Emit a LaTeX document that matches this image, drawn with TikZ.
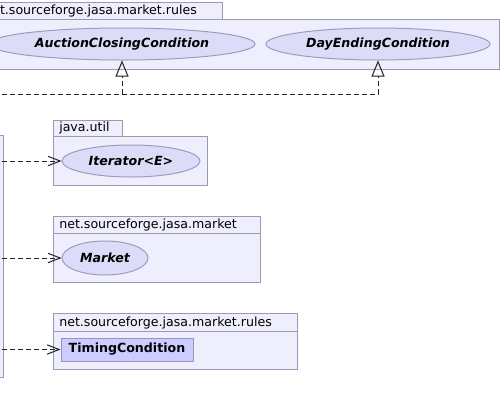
\documentclass[tikz,border=0pt]{standalone}
\usepackage{fontspec}
\setmainfont{DejaVu Sans}
\usetikzlibrary{arrows.meta,shapes.geometric}
\definecolor{pkgfill}{HTML}{EEEEFC}
\definecolor{pkgline}{HTML}{9A9AB4}
\definecolor{ifacefill}{HTML}{DCDCF8}
\definecolor{ifaceline}{HTML}{9C9CC0}
\definecolor{clsfill}{HTML}{CCCCFF}
\definecolor{clsline}{HTML}{9494C4}
\definecolor{wire}{HTML}{222222}

\begin{document}
\begin{tikzpicture}[x=0.75pt,y=-0.75pt,font=\fontsize{9.45}{11}\selectfont,
  pkg/.style={draw=pkgline,fill=pkgfill,line width=0.75pt},
  pkglabel/.style={anchor=base west,inner sep=0pt},
  iface/.style={ellipse,draw=ifaceline,fill=ifacefill,line width=0.75pt,inner sep=0pt,
    font=\fontsize{9.45}{11}\selectfont\bfseries\itshape},
  cls/.style={rectangle,draw=clsline,fill=clsfill,line width=0.75pt,inner sep=0pt,
    font=\fontsize{9.45}{11}\selectfont\bfseries},
  realize/.style={draw=wire,line width=0.75pt,dash pattern=on 3.75pt off 2.25pt,
    -{Triangle[open,length=12pt,width=9.75pt]}},
  depend/.style={draw=wire,line width=0.75pt,dash pattern=on 3.75pt off 2.25pt,
    -{Straight Barb[length=9pt,width=7pt]}}]
\useasboundingbox (0,0) rectangle (501,415);
\clip (0,0) rectangle (501,415);
% the class on the left, mostly out of view
\path[pkg] (-40,135) rectangle (3,377);
% package with the two closing conditions
\path[pkg] (-22,2) rectangle (222,19);
\path[pkg] (-22,19) rectangle (499,69);
\node[pkglabel] (rulestab) at (-16,14.5) {net.sourceforge.jasa.market.rules};
\node[iface,minimum width=199.5pt,minimum height=24pt] (auction) at (122,44) {AuctionClosingCondition};
\node[iface,minimum width=168pt,minimum height=24pt] (dayend) at (378,44) {DayEndingCondition};
% java.util
\path[pkg] (53,120) rectangle (122,136);
\path[pkg] (53,136) rectangle (207,185);
\node[pkglabel] (utiltab) at (59,131.5) {java.util};
\node[iface,minimum width=103.5pt,minimum height=24pt] (iterator) at (131,161) {Iterator<E>};
% net.sourceforge.jasa.market
\path[pkg] (53,216) rectangle (260,233);
\path[pkg] (53,233) rectangle (260,282);
\node[pkglabel] (markettab) at (59,228.5) {net.sourceforge.jasa.market};
\node[iface,minimum width=64.5pt,minimum height=25.5pt] (market) at (105,258) {Market};
% net.sourceforge.jasa.market.rules again
\path[pkg] (53,313) rectangle (297,331);
\path[pkg] (53,331) rectangle (297,369);
\node[pkglabel] (timingtab) at (59,326.2) {net.sourceforge.jasa.market.rules};
\node[cls,minimum width=99pt,minimum height=17.25pt] (timing) at (127,349.5) {TimingCondition};
% connectors from the class on the left
\coordinate (impl) at (-30,94);
\coordinate (useiter) at (-30,161);
\coordinate (usemarket) at (-30,258);
\coordinate (usetiming) at (-30,349.5);
\draw[realize] (impl) -| (auction.south);
\draw[realize] (impl) -| (dayend.south);
\draw[depend] (useiter) -- (iterator.west);
\draw[depend] (usemarket) -- (market.west);
\draw[depend] (usetiming) -- (timing.west);
\end{tikzpicture}
\end{document}
